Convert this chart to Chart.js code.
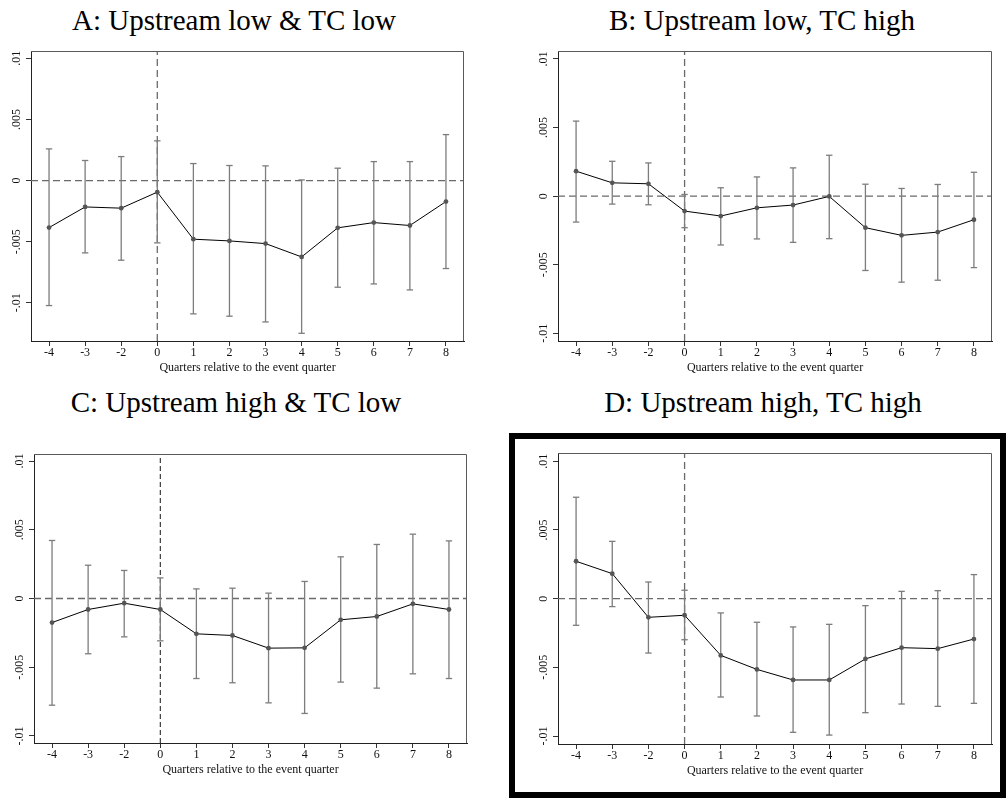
<!DOCTYPE html>
<html>
<head>
<meta charset="utf-8">
<script src="https://cdn.jsdelivr.net/npm/chart.js@4.4.1/dist/chart.umd.min.js"></script>
<style>
  html, body { margin: 0; padding: 0; background: #fff; }
  body { width: 1006px; height: 798px; position: relative; overflow: hidden; font-family: "Liberation Serif", "Times New Roman", serif; }
  canvas { position: absolute; }
  .ttl { position: absolute; width: 500px; text-align: center; font-size: 29px; line-height: 29px; color: #000; white-space: nowrap; }
  #frame { position: absolute; left: 509px; top: 433px; width: 497px; height: 365px; border: 6px solid #000; box-sizing: border-box; }
</style>
</head>
<body>
<div id="frame"></div>
<div class="ttl" id="tA"></div>
<div class="ttl" id="tB"></div>
<div class="ttl" id="tC"></div>
<div class="ttl" id="tD"></div>
<canvas id="cA"></canvas>
<canvas id="cB"></canvas>
<canvas id="cC"></canvas>
<canvas id="cD"></canvas>
<script>
// ---- data ----
const quarters = ['-4','-3','-2','0','1','2','3','4','5','6','7','8'];
const yTickValues = [-0.01, -0.005, 0, 0.005, 0.01];
const yTickLabels = ['-.01', '-.005', '0', '.005', '.01'];
const xAxisTitle = 'Quarters relative to the event quarter';
const eventQuarter = '0';

const titleA = 'A: Upstream low & TC low';
const coefA = [-0.00385, -0.00216, -0.00226, -0.00095, -0.0048, -0.00494, -0.00516, -0.00625, -0.00387, -0.00344, -0.00368, -0.00172];
const loA   = [-0.01023, -0.00592, -0.00652, -0.0051, -0.01091, -0.0111, -0.01157, -0.0125, -0.00873, -0.00846, -0.00895, -0.0072];
const hiA   = [0.00259, 0.00164, 0.00196, 0.00325, 0.00139, 0.00123, 0.0012, 0.00005, 0.00101, 0.00155, 0.00155, 0.00376];

const titleB = 'B: Upstream low, TC high';
const coefB = [0.00182, 0.00097, 0.0009, -0.00109, -0.00145, -0.00085, -0.00065, -0.00002, -0.0023, -0.00286, -0.00262, -0.00172];
const loB   = [-0.00189, -0.00058, -0.00063, -0.0023, -0.00356, -0.00312, -0.00337, -0.0031, -0.00542, -0.00627, -0.00613, -0.00521];
const hiB   = [0.00547, 0.00254, 0.00242, 0.00012, 0.00061, 0.0014, 0.00206, 0.00298, 0.00087, 0.00056, 0.00085, 0.00174];

const titleC = 'C: Upstream high & TC low';
const coefC = [-0.00175, -0.0008, -0.00034, -0.0008, -0.00257, -0.00269, -0.00361, -0.00359, -0.00155, -0.00131, -0.00039, -0.0008];
const loC   = [-0.00776, -0.00402, -0.00279, -0.00308, -0.00582, -0.00613, -0.00759, -0.00836, -0.00608, -0.00652, -0.00548, -0.00582];
const hiC   = [0.00422, 0.00242, 0.00204, 0.0015, 0.0007, 0.00075, 0.00039, 0.00124, 0.00303, 0.00393, 0.00468, 0.00419];

const titleD = 'D: Upstream high, TC high';
const coefD = [0.00272, 0.00182, -0.00136, -0.00121, -0.00413, -0.00515, -0.00592, -0.00592, -0.00439, -0.00357, -0.00364, -0.00294];
const loD   = [-0.00194, -0.00058, -0.00396, -0.00299, -0.00716, -0.00854, -0.00973, -0.00993, -0.0083, -0.00767, -0.00784, -0.00762];
const hiD   = [0.00738, 0.00417, 0.00121, 0.00061, -0.00104, -0.00172, -0.00206, -0.00187, -0.00051, 0.00053, 0.00058, 0.00175];

// ---- layout ----
const FONT = '"Liberation Serif", "Times New Roman", serif';
const X_AXIS_H = 34;

function placeTitle(id, text, cx, baseline) {
  const el = document.getElementById(id);
  el.textContent = text;
  el.style.left = (cx - 250) + 'px';
  el.style.top = (baseline - 24.3) + 'px';
}

const boxBorder = {
  id: 'boxBorder',
  afterDraw(chart) {
    const a = chart.chartArea, ctx = chart.ctx;
    ctx.save();
    ctx.strokeStyle = '#5a5a5a';
    ctx.lineWidth = 1;
    ctx.beginPath();
    ctx.moveTo(Math.round(a.left), Math.round(a.top) + 0.5);
    ctx.lineTo(Math.round(a.right) - 0.5, Math.round(a.top) + 0.5);
    ctx.lineTo(Math.round(a.right) - 0.5, Math.round(a.bottom));
    ctx.stroke();
    ctx.restore();
  }
};

function makePanel(id, rect, box, yMin, yMax, coef, lo, hi, vStyle) {
  const cv = document.getElementById(id);
  cv.width = rect.w; cv.height = rect.h;
  cv.style.left = rect.left + 'px'; cv.style.top = rect.top + 'px';
  cv.style.width = rect.w + 'px'; cv.style.height = rect.h + 'px';
  const yW = box.L - rect.left;
  const pad = {
    left: 0,
    top: box.T - rect.top,
    right: rect.left + rect.w - box.R,
    bottom: rect.top + rect.h - box.B - X_AXIS_H
  };
  const xs = quarters.map((q, i) => i);
  const xMin = -0.5, xMax = quarters.length - 0.5;
  const ev = quarters.indexOf(eventQuarter);

  const meanData = xs.map(i => ({x: i, y: coef[i]}));
  const barData = [];
  xs.forEach(i => { barData.push({x: i, y: lo[i]}, {x: i, y: hi[i]}, {x: i, y: null}); });
  const capData = [];
  xs.forEach(i => { capData.push({x: i, y: lo[i]}, {x: i, y: hi[i]}); });

  new Chart(cv, {
    type: 'scatter',
    data: {
      datasets: [
        { data: meanData, showLine: true, borderColor: '#000', borderWidth: 1,
          pointRadius: 2.4, pointBackgroundColor: '#555', pointBorderColor: '#555', pointBorderWidth: 0, order: 0 },
        { data: barData, showLine: true, spanGaps: false, borderColor: '#7d7d7d', borderWidth: 1.3,
          pointRadius: 0, order: 1 },
        { data: capData, showLine: false, pointStyle: 'line', pointRadius: 3.2,
          borderColor: '#7d7d7d', pointBorderColor: '#7d7d7d', pointBorderWidth: 1.3, order: 1 },
        { data: [{x: xMin, y: 0}, {x: xMax, y: 0}], showLine: true, borderColor: '#6a6a6a',
          borderWidth: 1.3, borderDash: [7, 4], pointRadius: 0, order: 2 },
        { data: [{x: ev, y: yMin}, {x: ev, y: yMax}], showLine: true, borderColor: vStyle.color,
          borderWidth: vStyle.width, borderDash: vStyle.dash, pointRadius: 0, order: 2 }
      ]
    },
    options: {
      responsive: false,
      animation: false,
      events: [],
      layout: { padding: pad },
      plugins: { legend: { display: false }, tooltip: { enabled: false }, title: { display: false } },
      scales: {
        x: {
          type: 'linear', position: 'bottom', min: xMin, max: xMax,
          afterBuildTicks: s => { s.ticks = xs.map(i => ({value: i})); },
          afterFit: s => { s.height = X_AXIS_H; },
          ticks: { callback: v => quarters[v], autoSkip: false, maxRotation: 0, minRotation: 0,
                   padding: 0, color: '#111', font: { family: FONT, size: 12 } },
          grid: { display: true, drawOnChartArea: false, drawTicks: true, tickLength: 5, color: '#333', lineWidth: 1 },
          border: { display: true, color: '#222', width: 1 },
          title: { display: true, text: xAxisTitle, color: '#111', padding: 0, font: { family: FONT, size: 12 } }
        },
        y: {
          type: 'linear', position: 'left', min: yMin, max: yMax,
          afterBuildTicks: s => { s.ticks = yTickValues.map(v => ({value: v})); },
          afterFit: s => { s.width = yW; },
          ticks: { callback: v => yTickLabels[yTickValues.indexOf(v)], autoSkip: false,
                   minRotation: 90, maxRotation: 90, crossAlign: 'center', padding: -3,
                   color: '#111', font: { family: FONT, size: 12 } },
          grid: { display: true, drawOnChartArea: false, drawTicks: true, tickLength: 5, color: '#333', lineWidth: 1 },
          border: { display: true, color: '#222', width: 1 }
        }
      }
    },
    plugins: [boxBorder]
  });
}

const grayDash = { color: '#6a6a6a', width: 1.3, dash: [7, 4] };
const blackDash = { color: '#111', width: 1, dash: [5, 3] };

placeTitle('tA', titleA, 234, 30);
placeTitle('tB', titleB, 762, 30);
placeTitle('tC', titleC, 236, 412);
placeTitle('tD', titleD, 763, 412);

makePanel('cA', {left: 0, top: 40, w: 490, h: 345}, {L: 31, T: 51, R: 464, B: 341}, -0.01313, 0.0106, coefA, loA, hiA, grayDash);
makePanel('cB', {left: 500, top: 40, w: 506, h: 345}, {L: 558, T: 51, R: 992, B: 341}, -0.01056, 0.01058, coefB, loB, hiB, grayDash);
makePanel('cC', {left: 0, top: 440, w: 490, h: 345}, {L: 34, T: 454, R: 467, B: 743}, -0.01051, 0.01051, coefC, loC, hiC, blackDash);
makePanel('cD', {left: 500, top: 440, w: 500, h: 345}, {L: 558, T: 453, R: 992, B: 744}, -0.01058, 0.0106, coefD, loD, hiD, grayDash);
</script>
</body>
</html>
